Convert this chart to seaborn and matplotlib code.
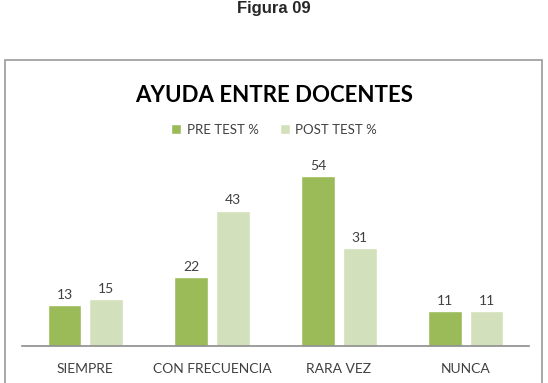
import pandas as pd
import matplotlib
matplotlib.use("Agg")
import matplotlib.pyplot as plt
import seaborn as sns
from matplotlib.patches import Rectangle

# datos
categorias = ["SIEMPRE", "CON FRECUENCIA", "RARA VEZ", "NUNCA"]
pre_test = [13, 22, 54, 11]
post_test = [15, 43, 31, 11]
series = ["PRE TEST %", "POST TEST %"]

df = pd.DataFrame({
    "categoria": categorias * 2,
    "valor": pre_test + post_test,
    "serie": [series[0]] * 4 + [series[1]] * 4,
})

sns.set_style("white")
plt.rcParams["font.family"] = ["Lato", "DejaVu Sans"]

W, H = 548, 383
fig = plt.figure(figsize=(W / 100, H / 100), dpi=100)

# marco del grafico
fig.patches.append(Rectangle((5 / W, -0.05), 537 / W, (H - 60) / H + 0.05,
                             transform=fig.transFigure, fill=False,
                             edgecolor="#9a9a9a", linewidth=1.2))

fig.text(0.5, 1 - 8 / H, "Figura 09", ha="center", va="center",
         fontsize=12, fontweight="bold", family=["Liberation Sans"])
fig.text(0.5, 1 - 96 / H, "AYUDA ENTRE DOCENTES", ha="center", va="center",
         fontsize=16, fontweight="bold", color="black")

ax = fig.add_axes([22 / W, (H - 346) / H, (529 - 22) / W, (346 - 157) / H])
sns.barplot(data=df, x="categoria", y="valor", hue="serie", order=categorias,
            palette=["#9BBB59", "#D3E0BC"], width=0.66, gap=0.19,
            saturation=1, ax=ax, legend=True)
ax.set_ylim(0, 60)
for cont in ax.containers:
    ax.bar_label(cont, padding=3, fontsize=10, color="#404040")

ax.set_xlabel("")
ax.set_ylabel("")
ax.set_yticks([])
for s in ["top", "right", "left"]:
    ax.spines[s].set_visible(False)
ax.spines["bottom"].set_color("#8c8c8c")
ax.spines["bottom"].set_linewidth(1.2)
ax.tick_params(axis="x", length=0, pad=12, labelsize=10, labelcolor="#404040")

handles, labels = ax.get_legend_handles_labels()
ax.get_legend().remove()
fig.legend(handles, labels, loc="center", bbox_to_anchor=(0.5, 1 - 130 / H),
           ncol=2, frameon=False, fontsize=9.5, handlelength=0.8, handleheight=0.8,
           handletextpad=0.4, columnspacing=1.6, labelcolor="#404040")

fig.savefig("out.png", dpi=100)
